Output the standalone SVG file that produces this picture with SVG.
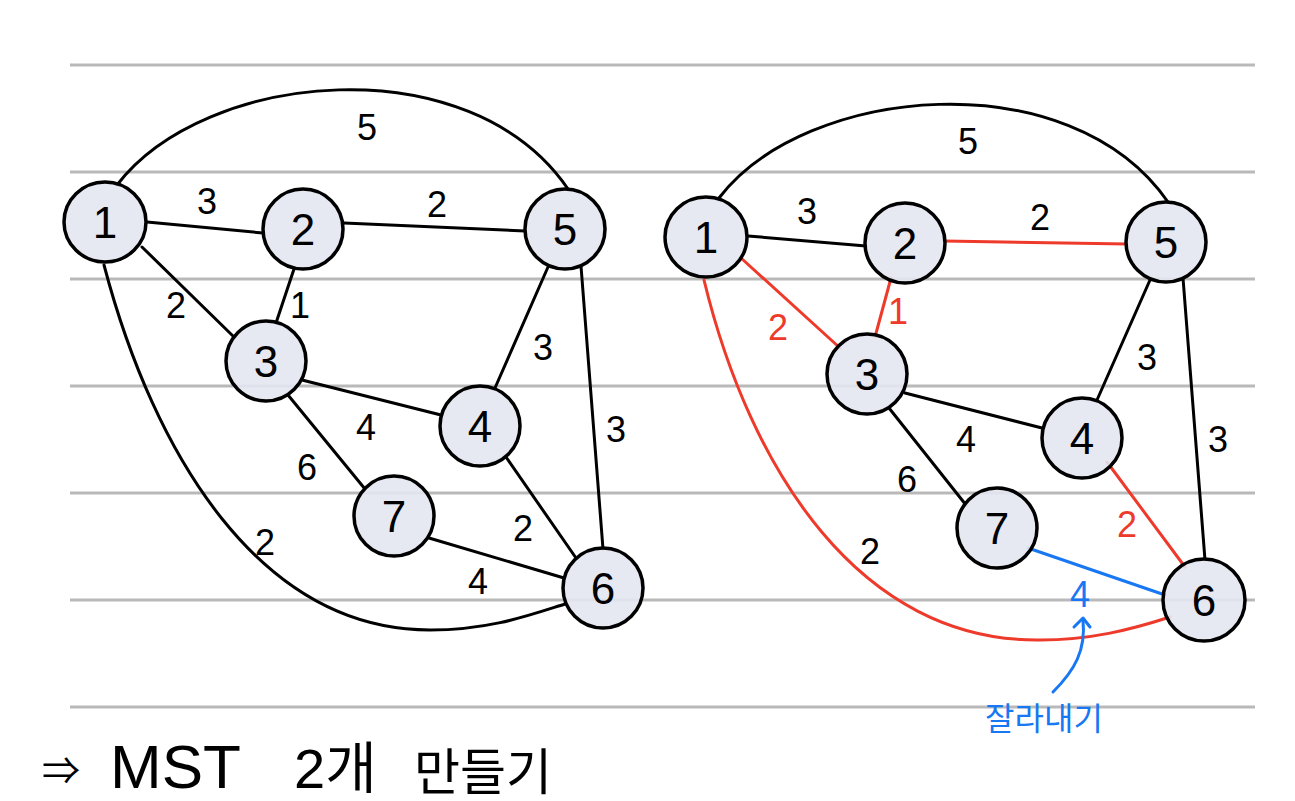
<svg xmlns="http://www.w3.org/2000/svg" width="1295" height="801" viewBox="0 0 1295 801">
<defs>
<style>
.rule{stroke:#b9b9b9;stroke-width:3;fill:none}
.e{stroke:#000;stroke-width:3;fill:none;stroke-linecap:round}
.r{stroke:#ee3a2a;stroke-width:3;fill:none;stroke-linecap:round}
.b{stroke:#1877f2;stroke-width:3;fill:none;stroke-linecap:round;stroke-linejoin:round}
.n ellipse{fill:#e3e6f1;fill-opacity:0.9;stroke:#000;stroke-width:3.5}
.n text{font-family:"Liberation Sans","Noto Sans",sans-serif;font-size:44px;text-anchor:middle;fill:#000}
.lb{font-family:"Liberation Sans","Noto Sans",sans-serif;font-size:36px;text-anchor:middle;fill:#000}
.lr{fill:#ee3a2a}
.lbb{fill:#1877f2}
.big{font-family:"Liberation Sans","Noto Sans CJK KR",sans-serif;fill:#000}
</style>
</defs>
<rect width="1295" height="801" fill="#fff"/>
<g id="rules">
<line class="rule" x1="70" y1="65" x2="1255" y2="65"/>
<line class="rule" x1="70" y1="172" x2="1255" y2="172"/>
<line class="rule" x1="70" y1="279" x2="1255" y2="279"/>
<line class="rule" x1="70" y1="386" x2="1255" y2="386"/>
<line class="rule" x1="70" y1="493" x2="1255" y2="493"/>
<line class="rule" x1="70" y1="600" x2="1255" y2="600"/>
<line class="rule" x1="70" y1="707" x2="1255" y2="707"/>
</g>
<g id="connectors">
<!-- left graph -->
<path class="e" d="M117,185 C205,70 470,45 568,189"/>
<line class="e" x1="147" y1="222" x2="263" y2="233"/>
<line class="e" x1="344" y1="223" x2="525" y2="231"/>
<line class="e" x1="142" y1="247" x2="234" y2="337"/>
<line class="e" x1="294" y1="269" x2="276" y2="323"/>
<line class="e" x1="548" y1="267" x2="495" y2="388"/>
<line class="e" x1="581" y1="266" x2="603" y2="549"/>
<line class="e" x1="302" y1="380" x2="441" y2="415"/>
<line class="e" x1="288" y1="395" x2="365" y2="489"/>
<line class="e" x1="506" y1="457" x2="576" y2="558"/>
<line class="e" x1="429" y1="538" x2="564" y2="578"/>
<path class="e" d="M104,265 C154,455 260,630 430,630 C490,630 530,615 565,604"/>
<!-- right graph -->
<path class="e" d="M719,198 C805,85 1070,60 1168,202"/>
<line class="e" x1="748" y1="236" x2="866" y2="246"/>
<line class="r" x1="944" y1="241" x2="1127" y2="244"/>
<line class="r" x1="741" y1="258" x2="840" y2="348"/>
<line class="r" x1="891" y1="278" x2="875" y2="337"/>
<line class="e" x1="1150" y1="280" x2="1097" y2="400"/>
<line class="e" x1="1183" y1="278" x2="1205" y2="560"/>
<line class="e" x1="905" y1="393" x2="1042" y2="428"/>
<line class="e" x1="889" y1="408" x2="966" y2="505"/>
<line class="r" x1="1107" y1="462" x2="1185" y2="567"/>
<line class="b" x1="1028" y1="548" x2="1165" y2="595"/>
<path class="r" d="M704,280 C750,470 860,642 1040,640 C1090,640 1130,630 1170,617"/>
<path class="b" d="M1053,692 C1075,670 1086,650 1083,620"/>
<polyline class="b" points="1074,627 1083,618 1090,627"/>
</g>
<g id="edge-labels">
<text class="lb" x="367" y="140">5</text>
<text class="lb" x="207" y="214">3</text>
<text class="lb" x="437" y="217">2</text>
<text class="lb" x="176" y="318">2</text>
<text class="lb" x="300" y="318">1</text>
<text class="lb" x="543" y="360">3</text>
<text class="lb" x="616" y="442">3</text>
<text class="lb" x="366" y="440">4</text>
<text class="lb" x="307" y="480">6</text>
<text class="lb" x="523" y="541">2</text>
<text class="lb" x="478" y="594">4</text>
<text class="lb" x="265" y="555">2</text>
<text class="lb" x="968" y="154">5</text>
<text class="lb" x="807" y="224">3</text>
<text class="lb" x="1040" y="230">2</text>
<text class="lb lr" x="778" y="340">2</text>
<text class="lb lr" x="898" y="324">1</text>
<text class="lb" x="1147" y="370">3</text>
<text class="lb" x="1218" y="452">3</text>
<text class="lb" x="966" y="452">4</text>
<text class="lb" x="907" y="492">6</text>
<text class="lb lr" x="1127" y="537">2</text>
<text class="lb lbb" x="1080" y="607">4</text>
<text class="lb" x="870" y="564">2</text>
</g>
<g id="L1" class="n"><ellipse cx="105" cy="222" rx="41" ry="40"/><text x="105" y="238">1</text></g>
<g id="L2" class="n"><ellipse cx="303" cy="229" rx="40" ry="40"/><text x="303" y="245">2</text></g>
<g id="L5" class="n"><ellipse cx="565" cy="229" rx="40" ry="40"/><text x="565" y="245">5</text></g>
<g id="L3" class="n"><ellipse cx="266" cy="361" rx="40" ry="40"/><text x="266" y="377">3</text></g>
<g id="L4" class="n"><ellipse cx="480" cy="426" rx="40" ry="40"/><text x="480" y="442">4</text></g>
<g id="L7" class="n"><ellipse cx="394" cy="516" rx="40" ry="40"/><text x="394" y="532">7</text></g>
<g id="L6" class="n"><ellipse cx="603" cy="588" rx="40" ry="40"/><text x="603" y="604">6</text></g>
<g id="R1" class="n"><ellipse cx="706" cy="237" rx="41" ry="40"/><text x="706" y="253">1</text></g>
<g id="R2" class="n"><ellipse cx="905" cy="243" rx="40" ry="40"/><text x="905" y="259">2</text></g>
<g id="R5" class="n"><ellipse cx="1166" cy="242" rx="40" ry="40"/><text x="1166" y="258">5</text></g>
<g id="R3" class="n"><ellipse cx="867" cy="374" rx="40" ry="40"/><text x="867" y="390">3</text></g>
<g id="R4" class="n"><ellipse cx="1082" cy="438" rx="40" ry="40"/><text x="1082" y="454">4</text></g>
<g id="R7" class="n"><ellipse cx="997" cy="528" rx="40" ry="40"/><text x="997" y="544">7</text></g>
<g id="R6" class="n"><ellipse cx="1204" cy="600" rx="41" ry="41"/><text x="1204" y="616">6</text></g>
<g id="notes">
<text class="big" x="1044" y="730" font-size="32" text-anchor="middle" style="fill:#1877f2">잘라내기</text>
<text class="big" x="42" y="784" font-size="38">⇒</text>
<text class="big" x="110" y="788" font-size="62">MST</text>
<text class="big" x="294" y="788" font-size="56">2개</text>
<text class="big" x="414" y="790" font-size="50">만들기</text>
</g>
</svg>
